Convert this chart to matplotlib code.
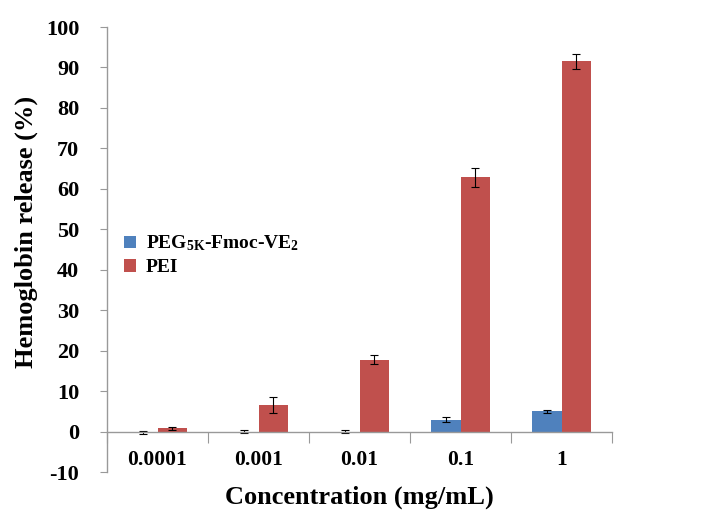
import matplotlib
matplotlib.use('Agg')
import matplotlib.pyplot as plt
import numpy as np

categories = ['0.0001', '0.001', '0.01', '0.1', '1']
peg_vals = [-0.2, 0.0, 0.0, 2.9, 5.0]
peg_err = [0.3, 0.3, 0.3, 0.6, 0.3]
pei_vals = [0.8, 6.5, 17.8, 62.8, 91.5]
pei_err = [0.3, 2.0, 1.2, 2.4, 1.8]

plt.rcParams['font.family'] = ['Liberation Serif', 'DejaVu Serif']
plt.rcParams['axes.unicode_minus'] = False
plt.rcParams['mathtext.fontset'] = 'custom'
plt.rcParams['mathtext.rm'] = 'Liberation Serif:bold'
plt.rcParams['mathtext.it'] = 'Liberation Serif:bold'
plt.rcParams['mathtext.bf'] = 'Liberation Serif:bold'

fig = plt.figure(figsize=(7.21, 5.27), dpi=100)
ax = fig.add_axes([107/721, 1-472/527, 505/721, 445/527])

x = np.arange(len(categories))
w = 0.29
ax.bar(x - w/2, peg_vals, w, color='#4F81BD', label='PEG$_{5K}$-Fmoc-VE$_2$',
       yerr=peg_err, error_kw=dict(ecolor='black', elinewidth=0.8, capsize=3, capthick=0.8))
ax.bar(x + w/2, pei_vals, w, color='#C0504D', label='PEI',
       yerr=pei_err, error_kw=dict(ecolor='black', elinewidth=0.8, capsize=3, capthick=0.8))

ax.set_xlim(-0.5, len(categories) - 0.5)
ax.set_ylim(-10, 100)
ax.set_yticks(range(-10, 101, 10))

ax.spines['top'].set_visible(False)
ax.spines['right'].set_visible(False)
ax.spines['bottom'].set_position(('data', 0))
for s in ['left', 'bottom']:
    ax.spines[s].set_color('#999999')
    ax.spines[s].set_linewidth(1.0)

# category boundary ticks on x axis, labels in between
ax.set_xticks(np.arange(-0.5, len(categories), 1.0))
ax.set_xticklabels([])
ax.set_xticks(x, minor=True)
ax.set_xticklabels(categories, minor=True)
ax.tick_params(axis='x', which='major', direction='out', length=8, color='#999999')
ax.tick_params(axis='x', which='minor', length=0, pad=13, labelsize=15.5)
ax.tick_params(axis='y', direction='out', length=5, color='#999999', labelsize=16, pad=15)
for lab in ax.get_xticklabels(minor=True) + ax.get_yticklabels():
    lab.set_fontweight('bold')

ax.set_ylabel('Hemoglobin release (%)', fontsize=19, fontweight='bold')
ax.yaxis.set_label_coords(-0.137, 0.54)
ax.set_xlabel('Concentration (mg/mL)', fontsize=19, fontweight='bold')
ax.xaxis.set_label_coords(0.5, -0.03)

leg = ax.legend(loc='upper left', bbox_to_anchor=(0.0, 0.575), frameon=False,
                prop={'size': 14, 'weight': 'bold'}, handlelength=0.6,
                handleheight=0.6, handletextpad=0.5, labelspacing=0.3)

fig.savefig('out.png', dpi=100)
